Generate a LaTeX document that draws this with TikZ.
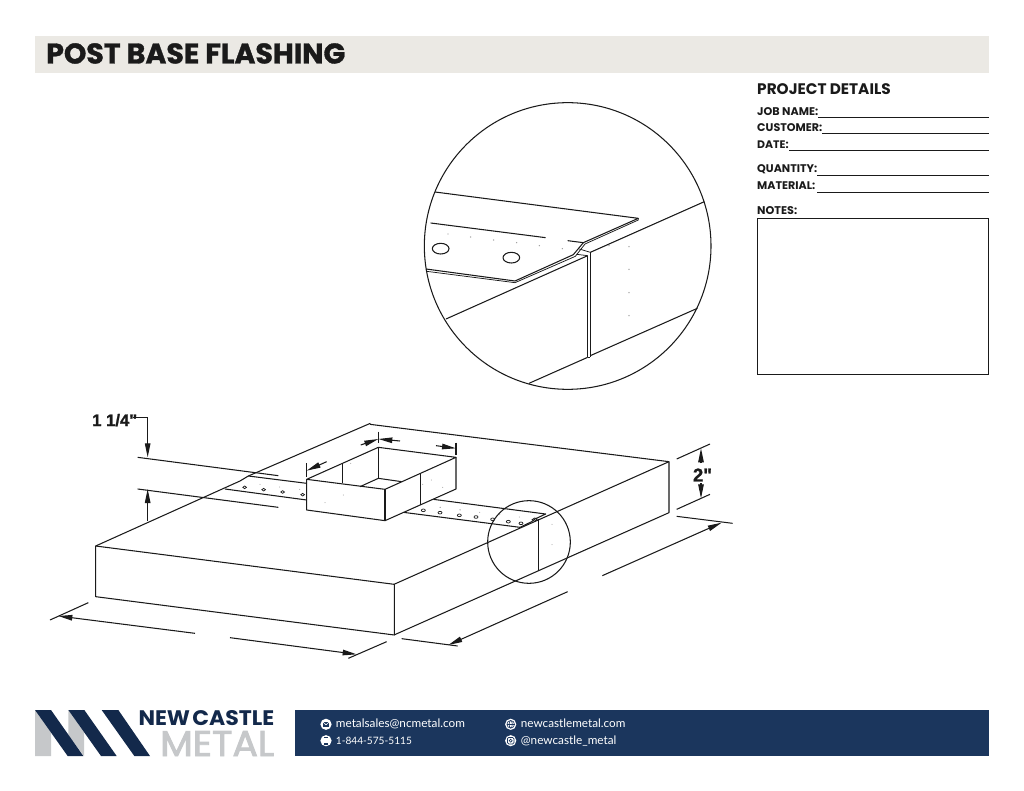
\documentclass[tikz,border=0pt]{standalone}
\usepackage{fontspec}
\usepackage{graphicx}
\usetikzlibrary{arrows.meta}
\setmainfont{Poppins}
\newfontfamily\dimfont[BoldFeatures={FakeBold=1.2}]{Liberation Sans}
\newfontfamily\contactfont{Lato}
\newfontfamily\heavyfont[BoldFeatures={FakeBold=1.2}]{Poppins}
\newfontfamily\metalfont[FakeBold=2.5]{Poppins}
\definecolor{navy}{HTML}{1B365D}
\definecolor{logonavy}{HTML}{13294B}
\definecolor{logogrey}{HTML}{C6C8CA}
\definecolor{band}{HTML}{EBE9E4}
\definecolor{ink}{HTML}{1A1A1A}
\tikzset{
  ln/.style={draw=ink,line width=1.05pt,line join=round},
  thin ln/.style={draw=ink,line width=0.75pt,line join=round},
  arw/.style={ln,-{Triangle[length=14pt,width=5.5pt]}},
  hole/.style={draw=ink,line width=0.7pt,fill=white},
  speck/.style={fill=gray!80,draw=none},
  lbl/.style={inner sep=0pt,anchor=base west,text=ink},
  ct/.style={inner sep=0pt,anchor=base west,text=white},
  rule/.style={draw=ink,line width=1pt},
  icon/.style={fill=white,draw=none},
  zoomed/.style={x=0.33333pt,y=-0.33333pt}
}
\newcommand{\fitlbl}[2]{\resizebox{#1pt}{!}{\bfseries #2}}
\newcommand{\fitct}[2]{\resizebox{#1pt}{!}{\contactfont #2}}
\begin{document}
\begin{tikzpicture}[x=1pt,y=-1pt]
\useasboundingbox (0,0) rectangle (1024,791);
\fill[white] (0,0) rectangle (1024,791);
% header
\fill[band] (35,36) rectangle (989,73.5);
\node[lbl] (title) at (46,63.5) {\resizebox{299pt}{!}{\heavyfont\bfseries POST BASE FLASHING}};
% project details
\node[lbl] (pd) at (757,94.5) {\fitlbl{133.5}{PROJECT DETAILS}};
\node[lbl] (job) at (757,115.5) {\fitlbl{61}{JOB NAME:}};
\node[lbl] (cus) at (757,132) {\fitlbl{65}{CUSTOMER:}};
\node[lbl] (dat) at (757,149) {\fitlbl{31.5}{DATE:}};
\node[lbl] (qty) at (757,173) {\fitlbl{60}{QUANTITY:}};
\node[lbl] (mat) at (757,190) {\fitlbl{58}{MATERIAL:}};
\node[lbl] (not) at (757,215) {\fitlbl{40}{NOTES:}};
\draw[rule] (818,117.5) -- (989,117.5);
\draw[rule] (822,134) -- (989,134);
\draw[rule] (789,151) -- (989,151);
\draw[rule] (817,175.5) -- (989,175.5);
\draw[rule] (817,192.5) -- (989,192.5);
\draw[rule] (757,219) rectangle (988.5,374);
% detail circle
\begin{scope}[shift={(420,95)},zoomed]
\draw[ln] (443,453) circle[radius=430];
\draw[ln] (45,291) -- (655,370) -- (490,443) -- (460,479) -- (285,558) -- (18,522);
\draw[thin ln] (655,370) -- (655,375) -- (495,447) -- (466,484) -- (285,563) -- (20,529);
\draw[ln] (32,384) -- (377,428);
\draw[ln] (443,437) -- (490,443);
\draw[ln] (62,461) ellipse[x radius=25,y radius=16];
\draw[ln] (274,488) ellipse[x radius=25,y radius=16];
\draw[ln] (78,672) -- (503,482);
\draw[ln] (511,472) -- (853,320);
\draw[thin ln] (478,462) -- (511,472);
\draw[thin ln] (470,478) -- (503,482);
\draw[ln] (503,482) -- (503,787);
\draw[ln] (511,472) -- (511,787);
\draw[ln] (503,787) -- (511,787);
\draw[ln] (327,865) -- (503,787);
\draw[ln] (511,782) -- (832,640);
\foreach \p in {(84,417),(152,426),(221,435),(290,443),(358,452),(427,461),(567,452),(627,455),(627,523),(627,593),(627,662)}
  \fill[speck] \p circle[radius=2.2];
\end{scope}
% main block and strip: left zoom coordinates
\begin{scope}[shift={(40,400)},zoomed]
\draw[ln] (991,70) -- (625,228) -- (600,243) -- (167,438) -- (167,590) -- (1063,705);
\draw[ln] (167,438) -- (1063,553) -- (1063,705);
\draw[ln] (625,228) -- (800,250);
\draw[ln] (555,267) -- (785,298) -- (800,300);
\foreach \p in {(614,262),(671,269),(728,276),(788,284)}
  \draw[hole] \p ellipse[x radius=5.5,y radius=4];
\foreach \p in {(660,253),(719,261),(779,268)}
  \fill[speck] \p circle[radius=1.5];
\draw[ln] (293,172) -- (715,227);
\draw[ln] (293,267) -- (715,322);
\draw[ln] (278,53) -- (323,53);
\draw[arw] (323,53) -- (323,172);
\draw[arw] (323,362) -- (323,267);
\draw[ln] (30,660) -- (145,608);
\draw[arw] (465,700) -- (55,648);
\draw[arw] (570,713) -- (950,763);
\draw[ln] (925,775) -- (1040,725);
\end{scope}
\node[inner sep=0pt,anchor=base west,text=ink] (quarter) at (92,426) {\resizebox{45pt}{!}{\dimfont\bfseries 1 1/4"}};
% right half
\begin{scope}[shift={(380,400)},zoomed]
\draw[ln] (-30,73) -- (867,185) -- (867,338) -- (42,705);
\draw[ln] (42,553) -- (867,185);
\draw[ln] (160,298) -- (497,342) -- (465,357) -- (455,365) -- (420,382) -- (70,337);
\foreach \p in {(130,331),(180,338),(238,346),(288,351),(338,358),(385,365),(423,370)}
  \draw[hole] \p ellipse[x radius=6,y radius=4];
\draw[thin ln] (456,359) -- (464,354) -- (472,358) -- (464,364) -- cycle;
\foreach \p in {(181,322),(240,329),(299,337),(359,344),(418,351),(516,373),(516,434)}
  \fill[speck] \p circle[radius=1.5];
\draw[ln] (476,358) -- (476,512);
\draw[ln] (447,426) circle[radius=124];
\draw[ln] (890,177) -- (990,132);
\draw[ln] (890,328) -- (990,283);
\draw[arw] (963,190) -- (963,145);
\draw[arw] (963,250) -- (963,295);
\draw[ln] (890,349) -- (1058,370);
\draw[arw] (667,527) -- (1025,368);
\draw[arw] (563,575) -- (205,735);
\draw[ln] (65,716) -- (233,738);
\end{scope}
\node[inner sep=0pt,text=ink] (two) at (702.5,475) {\dimfont\bfseries\fontsize{18.5}{18.5}\selectfont 2"};
% post base box
\begin{scope}[shift={(290,430)},zoomed]
\fill[white] (50,148) -- (265,52) -- (498,82) -- (498,177) -- (285,272) -- (50,240) -- cycle;
\draw[ln] (50,148) -- (265,52) -- (498,82) -- (285,178) -- cycle;
\draw[ln] (50,148) -- (50,240) -- (285,272) -- (498,177) -- (498,82);
\draw[ln] (285,178) -- (285,272);
\draw[ln] (265,52) -- (265,145);
\draw[ln] (158,100) -- (158,160);
\draw[ln] (210,170) -- (265,145) -- (335,155);
\draw[ln] (392,130) -- (392,225);
\draw[ln] (50,100) -- (50,140);
\draw[arw] (110,95) -- (50,122);
\draw[ln] (265,5) -- (265,40);
\draw[arw] (212,45) -- (265,27);
\draw[arw] (330,33) -- (265,27);
\draw[ln] (498,38) -- (498,75);
\draw[arw] (438,47) -- (498,55);
\foreach \p in {(182,100),(160,195),(105,218),(398,163),(424,150),(458,172),(450,232),(510,240)}
  \fill[speck] \p circle[radius=1.5];
\end{scope}
% logo
\begin{scope}[shift={(20,695)},zoomed]
\fill[logogrey] (45,45) -- (93,113) -- (93,183) -- (45,183) -- cycle;
\fill[logogrey] (145,45) -- (192,112) -- (192,183) -- (145,120) -- cycle;
\fill[logonavy] (45,45) -- (93,45) -- (190,183) -- (143,183) -- cycle;
\fill[logonavy] (145,45) -- (193,45) -- (290,183) -- (243,183) -- cycle;
\fill[logonavy] (245,45) -- (295,45) -- (390,183) -- (343,183) -- cycle;
\end{scope}
\node[inner sep=0pt,anchor=base west,text=logonavy] (lnew) at (138.3,725) {\resizebox{135.7pt}{15pt}{\bfseries NEW\hspace{0.1em}CASTLE}};
\node[inner sep=0pt,anchor=base west,text=logogrey] (lmet) at (160,756) {\resizebox{114pt}{25pt}{\metalfont METAL}};
% footer band
\fill[navy] (295,710) rectangle (989,756);
\node[ct] (c1) at (335.7,727.5) {\fitct{129}{metalsales@ncmetal.com}};
\node[ct] (c2) at (335.7,744) {\fitct{76}{1-844-575-5115}};
\node[ct] (c3) at (520.7,727.5) {\fitct{104.5}{newcastlemetal.com}};
\node[ct] (c4) at (520.7,744) {\fitct{95.5}{@newcastle\_metal}};
% icons
\fill[icon] (326,724.3) circle[radius=5.6];
\fill[navy] (322.6,721.8) rectangle (329.4,726.8);
\draw[white,line width=0.6pt] (322.6,721.8) -- (326,724.8) -- (329.4,721.8);
\fill[icon] (326,740.7) circle[radius=5.6];
\fill[navy] (323.6,736.8) rectangle (328.4,744.6);
\fill[white] (324.4,737.8) rectangle (327.6,743);
\fill[icon] (510.7,724.3) circle[radius=5.6];
\draw[navy,line width=0.6pt] (510.7,724.3) circle[radius=3.8];
\draw[navy,line width=0.6pt] (510.7,724.3) ellipse[x radius=1.6,y radius=3.8];
\draw[navy,line width=0.6pt] (506.9,724.3) -- (514.5,724.3);
\fill[icon] (510.7,740.7) circle[radius=5.6];
\draw[navy,line width=0.7pt,rounded corners=1.2pt] (507.5,737.5) rectangle (513.9,743.9);
\draw[navy,line width=0.7pt] (510.7,740.7) circle[radius=1.5];
\end{tikzpicture}
\end{document}
